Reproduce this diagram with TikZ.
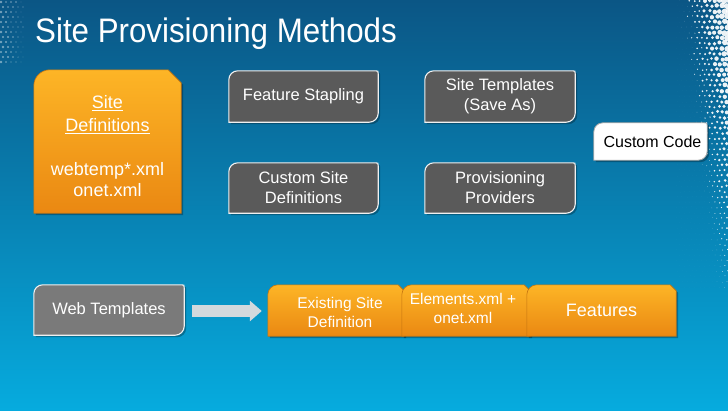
\documentclass[tikz,border=0pt]{standalone}
\usepackage{fontspec}
\usepackage{graphicx}
\setmainfont{Liberation Sans}
\usetikzlibrary{arrows.meta,calc}
\pgfdeclarelayer{back}\pgfdeclarelayer{bg}
\pgfsetlayers{back,bg,main}
\definecolor{bgtop}{HTML}{0B5685}
\definecolor{bgmid}{HTML}{0A84BC}
\definecolor{bgbot}{HTML}{06ABDE}
\definecolor{orgtop}{HTML}{FDB526}
\definecolor{orgbot}{HTML}{EA8812}
\definecolor{orgline}{HTML}{C47410}
\definecolor{gdark}{HTML}{5A5A5A}
\definecolor{gmid}{HTML}{7A7A7A}
\definecolor{arrowgray}{HTML}{D3D9DD}
% shapes built from node anchors
\newcommand\gpath[1]{(#1.south west) -- ($(#1.north west)+(0,9)$) .. controls ($(#1.north west)+(0,4)$) and ($(#1.north west)+(4,0)$) .. ($(#1.north west)+(9,0)$) -- ($(#1.north east)+(-3,0)$) .. controls (#1.north east) .. ($(#1.north east)+(0,3)$) -- ($(#1.south east)+(0,-9)$) .. controls ($(#1.south east)+(0,-4)$) and ($(#1.south east)+(-4,0)$) .. ($(#1.south east)+(-9,0)$) -- cycle}
\newcommand\snippath[3]{(#1.south west) -- ($(#1.north west)+(0,#2)$) .. controls ($(#1.north west)+(0,#2*0.45)$) and ($(#1.north west)+(#2*0.45,0)$) .. ($(#1.north west)+(#2,0)$) -- ($(#1.north east)+(-#3,0)$) -- ($(#1.north east)+(0,#3)$) -- (#1.south east) -- cycle}
\begin{document}
\begin{tikzpicture}[x=1pt,y=-1pt,
  box/.style={inner sep=0pt},
  txt/.style={inner sep=0pt, align=center, text=white},
  gfont/.style={font=\fontsize{16.5}{20}\selectfont},
  shadowst/.style={fill=black, opacity=0.28, transform canvas={shift={(2,2)}}},
  graybox/.style={fill=gdark, draw=white!88!gray, line width=1.1pt},
  webbox/.style={fill=gmid, draw=white!88!gray, line width=1.1pt},
  codebox/.style={fill=white, draw=gray!70, line width=0.8pt},
  orangebox/.style={top color=orgtop, bottom color=orgbot, draw=orgline, line width=0.6pt},
  blockarrow/.style={line width=12pt, draw=arrowgray, -{Triangle[length=12pt,width=20pt]}}]
\useasboundingbox (0,0) rectangle (728,410);
\begin{pgfonlayer}{back}
\shade[top color=bgtop, middle color=bgmid, bottom color=bgbot] (0,0) rectangle (728,410);
\pgfmathsetseed{11}
% halftone dots, right edge
\foreach \yi in {0,...,54}{
  \foreach \xi in {0,...,10}{
    \pgfmathsetmacro\yy{\yi*5.3+rnd*1.5}
    \pgfmathsetmacro\xx{729-\xi*5.0-mod(\yi,2)*2.5+rnd*1.2}
    \pgfmathsetmacro\w{46-\yy*0.115}
    \pgfmathsetmacro\rr{max(0,(3.3*(1-(729-\xx)/\w)-0.3+0.8*rnd)*(1-\yy/320))}
    \fill[white, opacity=0.92] (\xx,\yy) circle[radius=\rr];
  }
}
% halftone dots, left of title
\foreach \yi in {0,...,12}{
  \foreach \xi in {0,...,4}{
    \pgfmathsetmacro\yy{2+\yi*5}
    \pgfmathsetmacro\xx{1+\xi*5+mod(\yi,2)*2}
    \pgfmathsetmacro\rr{max(0,1.1-\xi*0.2+0.3*rnd)}
    \fill[white, opacity=0.45] (\xx,\yy) circle[radius=\rr];
  }
}
\end{pgfonlayer}
% title
\node[anchor=base west, inner sep=0pt, text=white, font=\fontsize{34}{40}\selectfont] (title) at (35,42) {\scalebox{0.92}[1]{Site Provisioning Methods}};
% box nodes
\node[box, minimum width=147pt, minimum height=143pt] (sd) at (107.5,141.5) {};
\node[box, minimum width=149pt, minimum height=51pt] (fs) at (303.5,96.5) {};
\node[box, minimum width=150pt, minimum height=51pt] (st) at (500,96.5) {};
\node[box, minimum width=149pt, minimum height=50pt] (cs) at (303.5,188) {};
\node[box, minimum width=150pt, minimum height=50pt] (pp) at (500,188) {};
\node[box, minimum width=113pt, minimum height=37pt] (cc) at (650.5,141.5) {};
\node[box, minimum width=150pt, minimum height=50pt] (wt) at (109,310) {};
\node[box, minimum width=136pt, minimum height=51pt] (ex) at (336,310.5) {};
\node[box, minimum width=128pt, minimum height=51pt] (el) at (466,310.5) {};
\node[box, minimum width=149pt, minimum height=51pt] (fe) at (601.5,310.5) {};
% texts
\node[txt, font=\fontsize{18}{21}\selectfont] (sdt) at ($(sd.center)+(0,5)$) {\underline{Site}\\[2pt]\underline{Definitions}\\[2pt] ~\\ webtemp*.xml\\ onet.xml};
\node[txt, gfont] (fst) at (fs.center) {Feature Stapling};
\node[txt, gfont] (stt) at (st.center) {Site Templates\\(Save As)};
\node[txt, gfont] (cst) at (cs.center) {Custom Site\\Definitions};
\node[txt, gfont] (ppt) at (pp.center) {Provisioning\\Providers};
\node[txt, text=black, font=\fontsize{16}{19}\selectfont] (cct) at ($(cc.center)+(2,0)$) {Custom Code};
\node[txt, gfont] (wtt) at (wt.center) {Web Templates};
\node[txt, font=\fontsize{15.5}{19}\selectfont] (ext) at ($(ex.center)+(4,2)$) {Existing Site\\Definition};
\node[txt, font=\fontsize{15.5}{19}\selectfont] (elt) at ($(el.center)+(-3,-2)$) {Elements.xml +\\onet.xml};
\node[txt, font=\fontsize{18}{21}\selectfont] (fet) at (fe.center) {Features};
% connector
\draw[blockarrow] ($(wt.east)+(8,1)$) -- ($(ex.west)+(-6,0.5)$);
\begin{pgfonlayer}{bg}
\path[shadowst] \snippath{sd}{16}{13};
\path[orangebox] \snippath{sd}{16}{13};
\foreach \n in {fs,st,cs,pp}{
  \path[shadowst] \gpath{\n};
  \path[graybox] \gpath{\n};
}
\path[shadowst] \gpath{cc};
\path[codebox] \gpath{cc};
\path[shadowst] \gpath{wt};
\path[webbox] \gpath{wt};
\foreach \n in {ex,el,fe}{
  \path[shadowst] \snippath{\n}{10}{6};
  \path[orangebox] \snippath{\n}{10}{6};
}
\end{pgfonlayer}
\end{tikzpicture}
\end{document}
